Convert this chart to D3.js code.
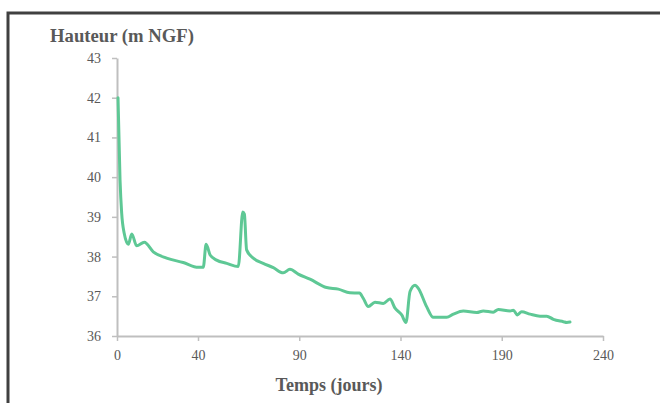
<!DOCTYPE html>
<html><head><meta charset="utf-8">
<script src="https://cdn.jsdelivr.net/npm/d3@7"></script>
<style>
html,body{margin:0;padding:0;background:#fff;}
svg{display:block;}
</style></head>
<body>
<svg id="chart" width="660" height="403"></svg>
<script>
const days = [0.5,1.5,2.3,3.5,5.6,7.3,9.7,13.5,17.9,24.5,32.7,40.1,42.6,44,46,49.2,54.2,59.9,62.1,62.9,64,67.3,72.2,77.2,82.1,85.4,89.5,
  95.3,103.5,109.3,115,119.7,121.6,124.1,127.4,131.5,134.8,137.3,140.6,142.7,144.7,147.2,148.8,152.9,156.2,162.8,166.1,171,177.6,180.9,185.8,188.3,194.1,195.7,197.7,199.8,204,208.9,212.2,215.5,220.4,222.1,223.7];
const heights = [42.0,39.93,39.1,38.6,38.31,38.57,38.27,38.36,38.12,37.96,37.85,37.73,37.73,38.31,38.04,37.91,37.83,37.75,39.12,39.07,38.17,37.96,37.83,37.72,37.59,37.68,37.56,
  37.43,37.22,37.18,37.09,37.08,36.95,36.74,36.85,36.82,36.93,36.70,36.53,36.34,37.12,37.28,37.20,36.74,36.47,36.47,36.55,36.63,36.59,36.63,36.60,36.67,36.63,36.65,36.53,36.61,36.55,36.50,36.50,36.42,36.36,36.34,36.35];
const xTicks = [0,40,90,140,190,240];
const yTicks = [36,37,38,39,40,41,42,43];
const yTitle = "Hauteur (m NGF)";
const xTitle = "Temps (jours)";

const svg = d3.select("#chart");
const font = "'Liberation Serif', 'DejaVu Serif', serif";
const textCol = "#595959";
const axisCol = "#bfbfbf";

// frame
svg.append("rect").attr("x",8).attr("y",13).attr("width",700).attr("height",450)
  .attr("fill","none").attr("stroke","#404040").attr("stroke-width",3);

const x = d3.scaleLinear().domain([0,240]).range([117,603]);
const y = d3.scaleLinear().domain([36,43]).range([336,58]);

const xAxis = svg.append("g").attr("transform","translate(0,336)")
  .call(d3.axisBottom(x).tickValues(xTicks).tickFormat(d3.format("d")).tickSize(5).tickSizeOuter(0).tickPadding(9));
const yAxis = svg.append("g").attr("transform","translate(117,0)")
  .call(d3.axisLeft(y).tickValues(yTicks).tickFormat(d3.format("d")).tickSize(5).tickSizeOuter(0).tickPadding(11));
[xAxis,yAxis].forEach(g=>{
  g.attr("font-family",font);
  g.select(".domain").attr("stroke",axisCol).attr("stroke-width",2);
  g.selectAll(".tick line").attr("stroke",axisCol).attr("stroke-width",1.5);
  g.selectAll(".tick text").attr("fill",textCol).attr("font-family",font).attr("font-size",14);
});

const line = d3.line().x((d,i)=>x(days[i])).y((d,i)=>y(heights[i])).curve(d3.curveMonotoneX);
svg.append("path").datum(heights).attr("d",line).attr("fill","none")
  .attr("stroke","#5ec895").attr("stroke-width",3).attr("stroke-linejoin","round").attr("stroke-linecap","round");

svg.append("text").attr("x",50).attr("y",42).text(yTitle)
  .attr("font-family",font).attr("font-weight","bold").attr("font-size",18.7).attr("fill",textCol);
svg.append("text").attr("x",329).attr("y",391).attr("text-anchor","middle").text(xTitle)
  .attr("font-family",font).attr("font-weight","bold").attr("font-size",18).attr("fill",textCol);
</script>
</body></html>
